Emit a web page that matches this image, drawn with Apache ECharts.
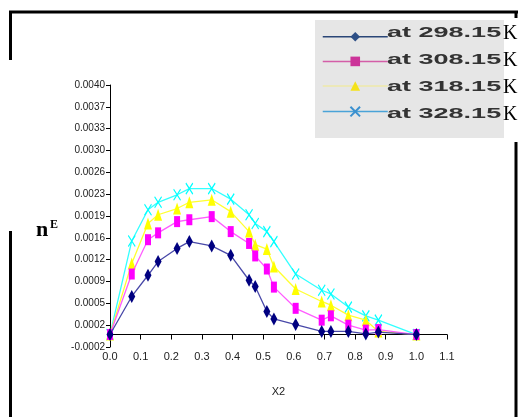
<!DOCTYPE html>
<html>
<head>
<meta charset="utf-8">
<script src="https://cdn.jsdelivr.net/npm/echarts@6/dist/echarts.min.js"></script>
<style>html,body{margin:0;padding:0;background:#fff}#c{width:523px;height:417px}</style>
</head>
<body>
<div id="c"></div>
<script>
// ---- data ----
var x2Values = [0, 0.071, 0.124, 0.157, 0.219, 0.259, 0.332, 0.394, 0.454, 0.474, 0.512, 0.535, 0.606, 0.691, 0.721, 0.778, 0.835, 0.876, 1.0];
var nE_29815 = [0, 0.00061, 0.00095, 0.00117, 0.00138, 0.00149, 0.00142, 0.00127, 0.00087, 0.00077, 0.00037, 0.00025, 0.00016, 0.00005, 0.00005, 0.00005, 0.00001, 0.00004, 0];
var nE_30815 = [0, 0.00097, 0.00152, 0.00163, 0.00181, 0.00184, 0.00189, 0.00165, 0.00146, 0.00126, 0.00105, 0.00076, 0.00042, 0.00023, 0.00030, 0.00015, 0.00007, 0.00008, 0];
var nE_31815 = [0, 0.00114, 0.00178, 0.00192, 0.00202, 0.00212, 0.00216, 0.00197, 0.00165, 0.00144, 0.00137, 0.00109, 0.00073, 0.00053, 0.00047, 0.00031, 0.00023, 0.00005, 0];
var nE_32815 = [0, 0.00150, 0.00200, 0.00212, 0.00224, 0.00234, 0.00234, 0.00217, 0.00192, 0.00178, 0.00165, 0.00149, 0.00097, 0.00071, 0.00065, 0.00044, 0.00030, 0.00023, 0];
var seriesNames = ['at 298.15', 'at 308.15', 'at 318.15', 'at 328.15'];
var yTickLabels = ['-0.0002', '0.0002', '0.0005', '0.0009', '0.0012', '0.0016', '0.0019', '0.0023', '0.0026', '0.0030', '0.0033', '0.0037', '0.0040'];
var xTickLabels = ['0.0', '0.1', '0.2', '0.3', '0.4', '0.5', '0.6', '0.7', '0.8', '0.9', '1.0', '1.1'];

var yStart = -0.0002, yStep = 0.00035;
var yTickValues = yTickLabels.map(function (_, i) { return yStart + i * yStep; });
function pairs(ys) { return x2Values.map(function (x, i) { return [x, ys[i]]; }); }

var chart = echarts.init(document.getElementById('c'), null, {renderer: 'canvas'});
var narrow = '"Liberation Sans Narrow", "Liberation Sans", Arial, sans-serif';
var xPath = 'path://M0,0L10,10M10,0L0,10';

var legendColors = [
  {line: '#2a4677', sym: '#2d4f86'},
  {line: '#d45ea8', sym: '#cc3399'},
  {line: '#eee8a8', sym: '#f4e21a'},
  {line: '#4aa3d8', sym: '#3a90cf'}
];

var rowY = [33, 60, 87, 114];
var graphics = [
  {type: 'rect', shape: {x: 315, y: 20, width: 189, height: 118}, style: {fill: '#e6e6e6'}, z: 0},
  {type: 'line', shape: {x1: 9, y1: 12, x2: 518, y2: 12}, style: {stroke: '#000', lineWidth: 3}},
  {type: 'line', shape: {x1: 516, y1: 11, x2: 516, y2: 18}, style: {stroke: '#000', lineWidth: 3}},
  {type: 'line', shape: {x1: 10.5, y1: 11, x2: 10.5, y2: 60}, style: {stroke: '#000', lineWidth: 3}},
  {type: 'line', shape: {x1: 10.5, y1: 231, x2: 10.5, y2: 417}, style: {stroke: '#000', lineWidth: 3}},
  {type: 'line', shape: {x1: 516, y1: 142, x2: 516, y2: 417}, style: {stroke: '#000', lineWidth: 3}},
  {type: 'text', x: 36, y: 241, style: {text: 'n', font: 'bold 22px "Liberation Serif", serif', fill: '#000', textVerticalAlign: 'bottom'}},
  {type: 'text', x: 50, y: 231, style: {text: 'E', font: 'bold 12px "Liberation Serif", serif', fill: '#000', textVerticalAlign: 'bottom'}}
];
seriesNames.forEach(function (n, i) {
  graphics.push({type: 'text', x: 387, y: rowY[i], scaleX: 1.93, z: 10,
    style: {text: n, font: 'bold 14px "Liberation Sans", Arial, sans-serif', fill: '#333', textVerticalAlign: 'middle'}});
  graphics.push({type: 'text', x: 503, y: rowY[i] + 1, z: 10,
    style: {text: 'K', font: '20px "Liberation Serif", serif', fill: '#000', textVerticalAlign: 'middle'}});
});

var option = {
  animation: false,
  backgroundColor: '#fff',
  grid: {left: 110, right: 76, top: 85, bottom: 70},
  legend: {
    orient: 'vertical', left: 317, top: 27, itemWidth: 65, itemHeight: 12, itemGap: 15,
    formatter: function () { return ''; },
    textStyle: {fontSize: 10, lineHeight: 12},
    data: seriesNames.map(function (n, i) {
      return {name: n, itemStyle: {color: legendColors[i].sym, borderColor: legendColors[i].sym}, lineStyle: {color: legendColors[i].line, width: 1.5}};
    })
  },
  graphic: graphics,
  xAxis: {
    type: 'value', min: 0, max: 1.1, interval: 0.1,
    name: 'X2', nameLocation: 'middle', nameGap: 39,
    nameTextStyle: {fontFamily: narrow, fontSize: 11, color: '#222'},
    axisLine: {onZero: true, lineStyle: {color: '#000', width: 1}},
    axisTick: {show: true, length: 5, lineStyle: {color: '#000'}},
    axisLabel: {margin: 4, fontFamily: narrow, fontSize: 11, color: '#222',
      formatter: function (v) { return xTickLabels[Math.round(v * 10)]; }},
    splitLine: {show: false}
  },
  yAxis: {
    type: 'value', min: yStart, max: 0.0040,
    axisLine: {show: true, onZero: false, lineStyle: {color: '#000', width: 1}},
    axisTick: {show: true, length: 4, customValues: yTickValues, lineStyle: {color: '#000'}},
    axisLabel: {show: true, customValues: yTickValues, margin: 5, fontFamily: narrow, fontSize: 10, color: '#222',
      formatter: function (v) { return yTickLabels[Math.round((v - yStart) / yStep)]; }},
    splitLine: {show: false}
  },
  series: [
    {name: seriesNames[0], type: 'line', data: pairs(nE_29815), symbol: 'diamond', symbolSize: [7, 13],
      itemStyle: {color: '#000080'}, lineStyle: {color: '#4848a8', width: 1.3}, z: 5},
    {name: seriesNames[1], type: 'line', data: pairs(nE_30815), symbol: 'rect', symbolSize: [6, 11],
      itemStyle: {color: '#ff00ff'}, lineStyle: {color: '#ff5cff', width: 1.3}, z: 4},
    {name: seriesNames[2], type: 'line', data: pairs(nE_31815), symbol: 'triangle', symbolSize: [8, 12],
      itemStyle: {color: '#ffff00'}, lineStyle: {color: '#ffff30', width: 1.3}, z: 3},
    {name: seriesNames[3], type: 'line', data: pairs(nE_32815), symbol: xPath, symbolSize: [7, 11],
      itemStyle: {color: '#00ffff', borderColor: '#00ffff', borderWidth: 1.3}, lineStyle: {color: '#33ffff', width: 1.3}, z: 2}
  ]
};
chart.setOption(option);
</script>
</body>
</html>
